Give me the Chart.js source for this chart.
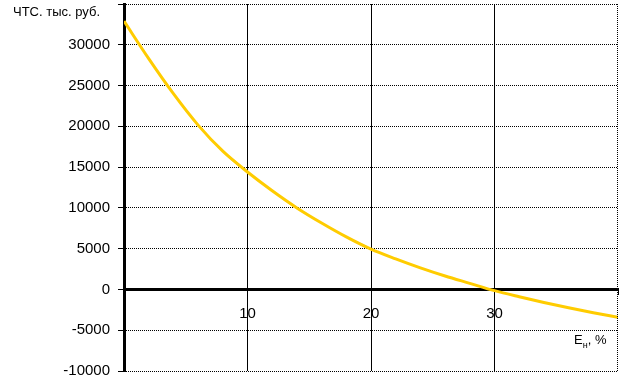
<!DOCTYPE html>
<html>
<head>
<meta charset="utf-8">
<script src="https://cdn.jsdelivr.net/npm/chart.js@4"></script>
<style>
  html, body { margin: 0; padding: 0; background: #fff; }
  #wrap { position: relative; width: 623px; height: 383px; }
  .lbl { position: absolute; font-family: "Liberation Sans", Arial, sans-serif; font-size: 13px; color: #000; white-space: nowrap; }
  #ytitle { left: 13px; top: 4px; }
  #xtitle { left: 574px; top: 332px; }
  #xtitle sub { font-size: 9px; }
</style>
</head>
<body>
<div id="wrap">
  <canvas id="npvChart" width="623" height="383"></canvas>
  <div class="lbl" id="ytitle">ЧТС. тыс. руб.</div>
  <div class="lbl" id="xtitle">Е<sub>н</sub>, %</div>
</div>
<script>
// ставка дисконта, %
const rates = [0, 2, 4, 6, 8, 10, 12, 14, 16, 18, 20, 22, 24, 26, 28, 30, 32, 34, 36, 38, 40];
// ЧТС, тыс. руб.
const npv = [32900, 28300, 24000, 20150, 16950, 14400, 12100, 10000, 8150, 6450, 4950, 3750, 2650, 1650, 750, -150, -900, -1600, -2250, -2850, -3400];
const xTicks = [10, 20, 30];
const yMin = -10000, yMax = 35000, yStep = 5000;

const points = rates.map((r, i) => ({ x: r, y: npv[i] }));

// пунктирная правая граница
const rightEdge = {
  id: "rightEdge",
  afterDraw(chart) {
    const ctx = chart.ctx;
    const x = chart.scales.x.getPixelForValue(40);
    const a = chart.chartArea;
    ctx.save();
    ctx.strokeStyle = "#000";
    ctx.lineWidth = 1;
    ctx.setLineDash([1, 1]);
    ctx.beginPath();
    ctx.moveTo(Math.round(x) - 0.5, a.top);
    ctx.lineTo(Math.round(x) - 0.5, a.bottom);
    ctx.stroke();
    ctx.restore();
  }
};

const ctx = document.getElementById("npvChart").getContext("2d");
const npvChart = new Chart(ctx, {
  type: "line",
  data: {
    datasets: [
      {
        data: points,
        borderColor: "#ffcc00",
        borderWidth: 3,
        pointRadius: 0,
        cubicInterpolationMode: "monotone",
        fill: false,
      },
    ],
  },
  options: {
    responsive: false,
    animation: false,
    layout: { padding: { left: 0, right: 5, top: 4, bottom: 12 } },
    plugins: { legend: { display: false }, tooltip: { enabled: false } },
    scales: {
      x: {
        type: "linear",
        position: { y: 0 },
        min: 0,
        max: 40,
        afterFit: (scale) => { scale.paddingLeft = 0; scale.paddingRight = 0; },
        ticks: {
          stepSize: 10,
          padding: 11,
          color: "#000",
          font: { family: "Liberation Sans", size: 15 },
          callback: (v) => (xTicks.includes(v) ? String(v) : ""),
        },
        grid: {
          color: (c) => (c.tick && (c.tick.value === 0 || c.tick.value === 40) ? "rgba(0,0,0,0)" : "#000"),
          lineWidth: 1,
          tickLength: 4,
          tickColor: "#000",
        },
        border: { color: "#000", width: 3 },
      },
      y: {
        min: yMin,
        max: yMax,
        afterFit: (scale) => { scale.width = 124; scale.paddingTop = 0; scale.paddingBottom = 0; },
        ticks: {
          stepSize: yStep,
          padding: 8,
          color: "#000",
          font: { family: "Liberation Sans", size: 15 },
          callback: (v) => (v === yMax ? "" : String(v)),
        },
        grid: {
          color: "#000",
          lineWidth: 1,
          tickLength: 6,
          tickColor: "#000",
        },
        border: { color: "#000", width: 3, dash: [1, 1] },
      },
    },
  },
  plugins: [rightEdge],
});
</script>
</body>
</html>
